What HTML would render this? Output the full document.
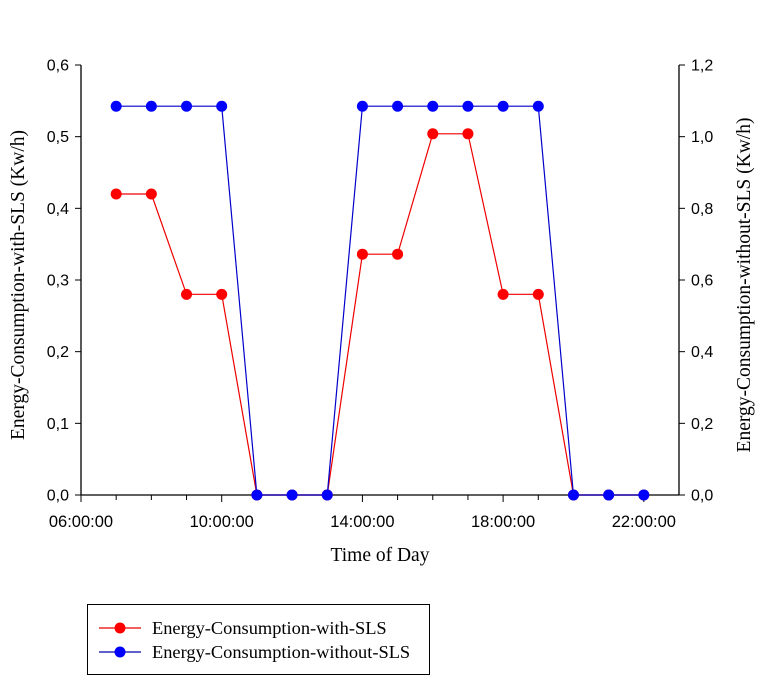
<!DOCTYPE html>
<html><head><meta charset="utf-8"><style>
body{margin:0;background:#fff;}
svg text{font-family:"Liberation Sans",sans-serif;}
</style></head><body>
<svg id="chart" width="783" height="679">
<g id="axes"></g><g id="series"></g>
<text x="380" y="561" text-anchor="middle" font-size="19.5" style="font-family:'Liberation Serif',serif">Time of Day</text>
<text transform="translate(24,285) rotate(-90)" text-anchor="middle" font-size="19.5" style="font-family:'Liberation Serif',serif">Energy-Consumption-with-SLS (Kw/h)</text>
<text transform="translate(750,285) rotate(-90)" text-anchor="middle" font-size="19.5" style="font-family:'Liberation Serif',serif">Energy-Consumption-without-SLS (Kw/h)</text>
<g>
<rect x="87.5" y="604.5" width="342" height="70" fill="#fff" stroke="#000" stroke-width="1"/>
<g>
<line x1="99" y1="628" x2="141" y2="628" stroke="#e00" stroke-width="1.2"/><circle cx="120" cy="628" r="5.5" fill="#f00"/>
<text x="152" y="634" font-size="18.4" style="font-family:'Liberation Serif',serif">Energy-Consumption-with-SLS</text></g>
<g>
<line x1="99" y1="652" x2="141" y2="652" stroke="#00a" stroke-width="1.2"/><circle cx="120" cy="652" r="5.5" fill="#00f"/>
<text x="152" y="658" font-size="18.4" style="font-family:'Liberation Serif',serif">Energy-Consumption-without-SLS</text></g>
</g>
</svg>
<script>
const hours=[7,8,9,10,11,12,13,14,15,16,17,18,19,20,21,22];
const withSLS=[0.42,0.42,0.28,0.28,0,0,0,0.336,0.336,0.504,0.504,0.28,0.28,0,0,0];
const withoutSLS=[1.085,1.085,1.085,1.085,0,0,0,1.085,1.085,1.085,1.085,1.085,1.085,0,0,0];
const leftTicks=[0,0.1,0.2,0.3,0.4,0.5,0.6];
const leftLabels=["0,0","0,1","0,2","0,3","0,4","0,5","0,6"];
const rightTicks=[0,0.2,0.4,0.6,0.8,1.0,1.2];
const rightLabels=["0,0","0,2","0,4","0,6","0,8","1,0","1,2"];
const xLabelHours=[6,10,14,18,22];
const xLabels=["06:00:00","10:00:00","14:00:00","18:00:00","22:00:00"];
const X0=81,X1=679,Y0=495,Y1=65;
const sx=h=>X0+(h-6)/(23-6)*(X1-X0);
const syL=v=>Y0-v/0.6*(Y0-Y1);
const syR=v=>Y0-v/1.2*(Y0-Y1);
const NS="http://www.w3.org/2000/svg";
function mk(t,a,p){const e=document.createElementNS(NS,t);for(const k in a)e.setAttribute(k,a[k]);p.appendChild(e);return e;}
const ax=document.getElementById('axes'),se=document.getElementById('series');
let l=mk('line',{x1:X0,y1:Y1,x2:X0,y2:Y0,stroke:'#000','stroke-width':1.3},ax);

l=mk('line',{x1:X1,y1:Y1,x2:X1,y2:Y0,stroke:'#000','stroke-width':1.3},ax);

l=mk('line',{x1:X0,y1:Y0,x2:X1,y2:Y0,stroke:'#000','stroke-width':1.3},ax);

leftTicks.forEach((v,i)=>{const y=syL(v);mk('line',{x1:X0-6,y1:y,x2:X0,y2:y,stroke:'#000'},ax);
const t=mk('text',{x:X0-12,y:y+5.5,'text-anchor':'end','font-size':16},ax);t.textContent=leftLabels[i];
});
rightTicks.forEach((v,i)=>{const y=syR(v);mk('line',{x1:X1,y1:y,x2:X1+6,y2:y,stroke:'#000'},ax);
const t=mk('text',{x:X1+12,y:y+5.5,'font-size':16},ax);t.textContent=rightLabels[i];
});
for(let h=6;h<=22;h++){const x=sx(h);mk('line',{x1:x,y1:Y0,x2:x,y2:Y0+(h%4==2?7:5),stroke:'#000'},ax);}
xLabelHours.forEach((h,i)=>{const t=mk('text',{x:sx(h),y:Y0+32,'text-anchor':'middle','font-size':16.5},ax);t.textContent=xLabels[i];
});
function draw(vals,sy,stroke,fill,name){
const pts=hours.map((h,i)=>sx(h)+','+sy(vals[i])).join(' ');
const pl=mk('polyline',{points:pts,fill:'none',stroke:stroke,'stroke-width':1.2},se);

hours.forEach((h,i)=>{const c=mk('circle',{cx:sx(h),cy:sy(vals[i]),r:5.5,fill:fill},se);
});}
draw(withSLS,syL,'#e00','#f00','with-sls');
draw(withoutSLS,syR,'#00c','#00f','without-sls');
</script>
</body></html>
